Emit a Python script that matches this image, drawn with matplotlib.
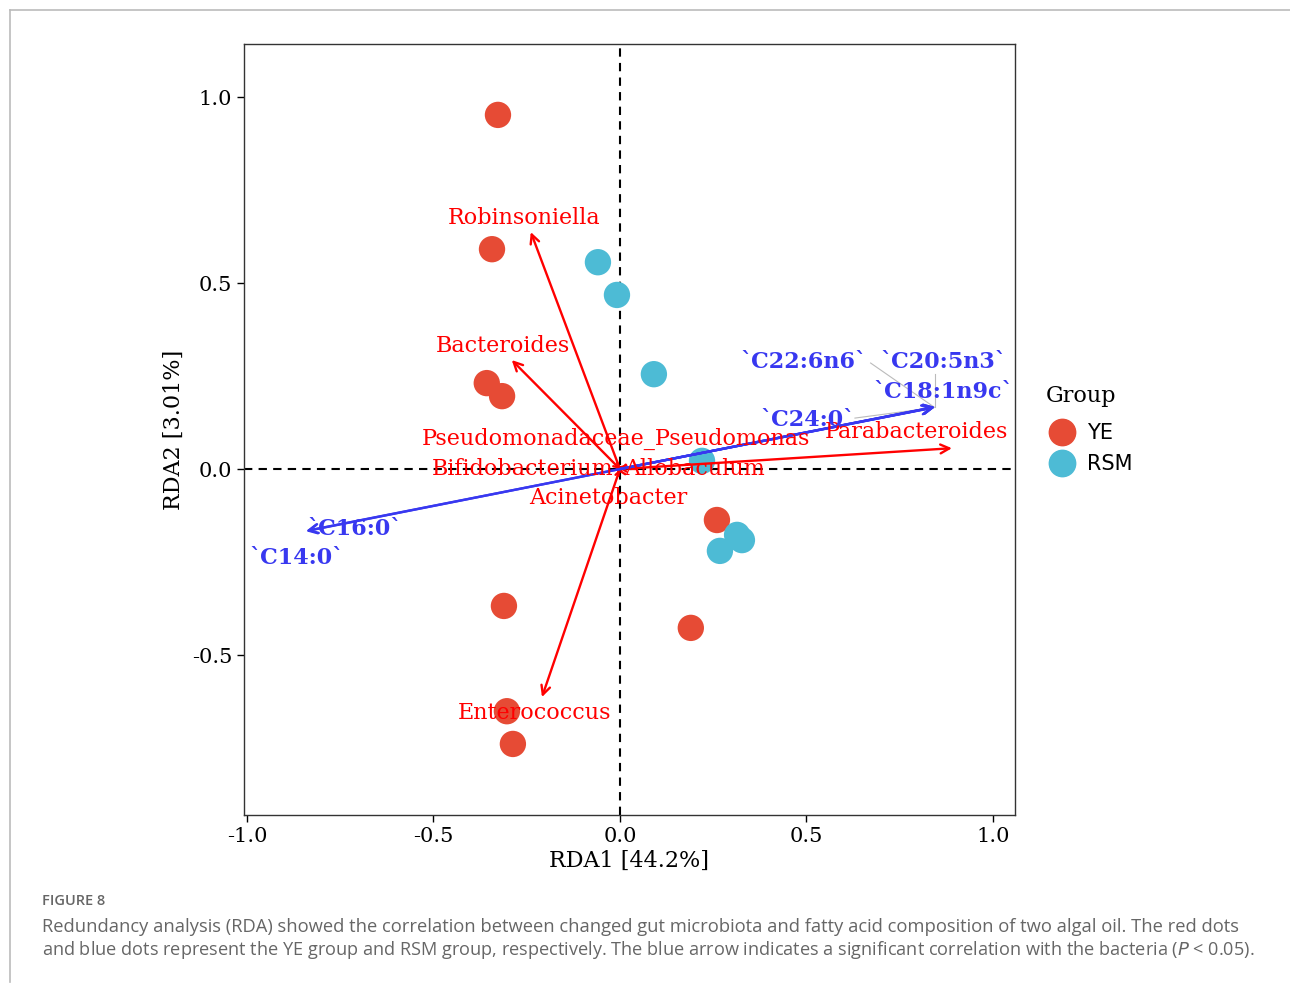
import matplotlib
matplotlib.use("Agg")
import matplotlib.pyplot as plt
from matplotlib.lines import Line2D

# ---- data ----
ye_x = [-0.327, -0.343, -0.357, -0.316, 0.260, -0.311, 0.190, -0.303, -0.287]
ye_y = [0.952, 0.591, 0.231, 0.196, -0.137, -0.368, -0.427, -0.651, -0.739]
rsm_x = [-0.059, -0.008, 0.091, 0.220, 0.314, 0.327, 0.268]
rsm_y = [0.556, 0.468, 0.255, 0.022, -0.177, -0.191, -0.220]

bact_names = ["Robinsoniella", "Bacteroides", "Pseudomonadaceae_Pseudomonas",
              "Bifidobacterium", "Allobaculum", "Acinetobacter",
              "Parabacteroides", "Enterococcus"]
bact_x = [-0.239, -0.290, -0.008, -0.015, 0.015, -0.004, 0.890, -0.209]
bact_y = [0.637, 0.293, 0.015, 0.002, 0.004, -0.015, 0.056, -0.613]
bact_lx = [-0.257, -0.314, -0.011, -0.260, 0.201, -0.032, 0.796, -0.228]
bact_ly = [0.675, 0.331, 0.081, 0.000, 0.000, -0.078, 0.099, -0.656]

fa_names = ["`C22:6n6`", "`C20:5n3`", "`C18:1n9c`", "`C24:0`", "`C16:0`", "`C14:0`"]
fa_x = [0.843, 0.845, 0.845, 0.840, -0.842, -0.840]
fa_y = [0.166, 0.167, 0.167, 0.165, -0.167, -0.166]
fa_lx = [0.493, 0.866, 0.866, 0.504, -0.710, -0.866]
fa_ly = [0.288, 0.288, 0.207, 0.133, -0.161, -0.239]

x_ticks = [-1.0, -0.5, 0.0, 0.5, 1.0]
y_ticks = [-0.5, 0.0, 0.5, 1.0]

RED_PT = "#E64B35"
BLUE_PT = "#4DBBD5"
RED = "#FF0000"
BLUE = "#3838F0"

fig = plt.figure(figsize=(12.9, 9.83), dpi=100)
ax = fig.add_axes([0.1891, 0.1709, 0.5977, 0.7843])
ax.set_xlim(-1.008, 1.059)
ax.set_ylim(-0.930, 1.1425)

ax.axhline(0, color="black", ls=(0, (4, 3)), lw=1.5, zorder=1)
ax.axvline(0, color="black", ls=(0, (4, 3)), lw=1.5, zorder=1)

ax.scatter(ye_x, ye_y, s=360, color=RED_PT, edgecolors="none", zorder=2)
ax.scatter(rsm_x, rsm_y, s=360, color=BLUE_PT, edgecolors="none", zorder=2)

for x, y in zip(bact_x, bact_y):
    ax.annotate("", xy=(x, y), xytext=(0, 0),
                arrowprops=dict(arrowstyle="->", color=RED, lw=1.7,
                                mutation_scale=16, shrinkA=0, shrinkB=0), zorder=3)
for x, y in zip(fa_x, fa_y):
    ax.annotate("", xy=(x, y), xytext=(0, 0),
                arrowprops=dict(arrowstyle="->", color=BLUE, lw=1.7,
                                mutation_scale=16, shrinkA=0, shrinkB=0), zorder=3)

# leader lines (repel segments)
leaders = [(0, 0.672, 0.285), (1, 0.845, 0.255), (3, 0.63, 0.137)]
for i, sx, sy in leaders:
    ax.plot([sx, fa_x[i]], [sy, fa_y[i]], color="#BBBBBB", lw=0.8, zorder=2)

for n, x, y in zip(bact_names, bact_lx, bact_ly):
    ax.text(x, y, n, color=RED, family="DejaVu Serif", fontsize=16,
            ha="center", va="center", zorder=4)
for n, x, y in zip(fa_names, fa_lx, fa_ly):
    ax.text(x, y, n, color=BLUE, family="DejaVu Serif", fontsize=16,
            fontweight="bold", ha="center", va="center", zorder=4)

ax.set_xticks(x_ticks)
ax.set_xticklabels([f"{v:.1f}" for v in x_ticks], family="DejaVu Serif", fontsize=15)
ax.set_yticks(y_ticks)
ax.set_yticklabels([f"{v:.1f}" for v in y_ticks], family="DejaVu Serif", fontsize=15)
ax.tick_params(direction="out", length=5, width=1, colors="black")
ax.set_xlabel("RDA1 [44.2%]", family="DejaVu Serif", fontsize=16, labelpad=3)
ax.set_ylabel("RDA2 [3.01%]", family="DejaVu Serif", fontsize=16, labelpad=5)
for s in ax.spines.values():
    s.set_color("#333333")
    s.set_linewidth(1.0)

handles = [Line2D([], [], marker="o", ls="", color=RED_PT, markersize=19),
           Line2D([], [], marker="o", ls="", color=BLUE_PT, markersize=19)]
leg = fig.legend(handles, ["YE", "RSM"], loc="upper left",
                 bbox_to_anchor=(0.804, 0.617), frameon=False,
                 title="Group", prop=dict(family="DejaVu Sans", size=15),
                 handletextpad=0.4, labelspacing=0.5, borderaxespad=0,
                 handlelength=1.6)
leg.get_title().set_fontfamily("DejaVu Serif")
leg.get_title().set_fontsize(16)
leg._legend_box.align = "left"
leg._legend_box.sep = 12

# frame lines
fig.add_artist(Line2D([10/1290, 1.0], [1-10/983, 1-10/983], color="#BBBBBB", lw=1.2))
fig.add_artist(Line2D([10/1290, 10/1290], [1-10/983, 1-982/983], color="#BBBBBB", lw=1.2))

fig.text(42/1290, 1-901/983, "FIGURE 8", family="Open Sans", fontsize=10.5,
         color="#666666", va="center", ha="left", fontweight="semibold")
fig.text(42/1290, 1-927/983,
         "Redundancy analysis (RDA) showed the correlation between changed gut microbiota and fatty acid composition of two algal oil. The red dots",
         family="Open Sans", fontsize=13.2, color="#666666", va="center", ha="left")
fig.text(42/1290, 1-950/983,
         "and blue dots represent the YE group and RSM group, respectively. The blue arrow indicates a significant correlation with the bacteria ($P$ < 0.05).",
         family="Open Sans", fontsize=13.1, color="#666666", va="center", ha="left")

fig.savefig("out.png", dpi=100)
